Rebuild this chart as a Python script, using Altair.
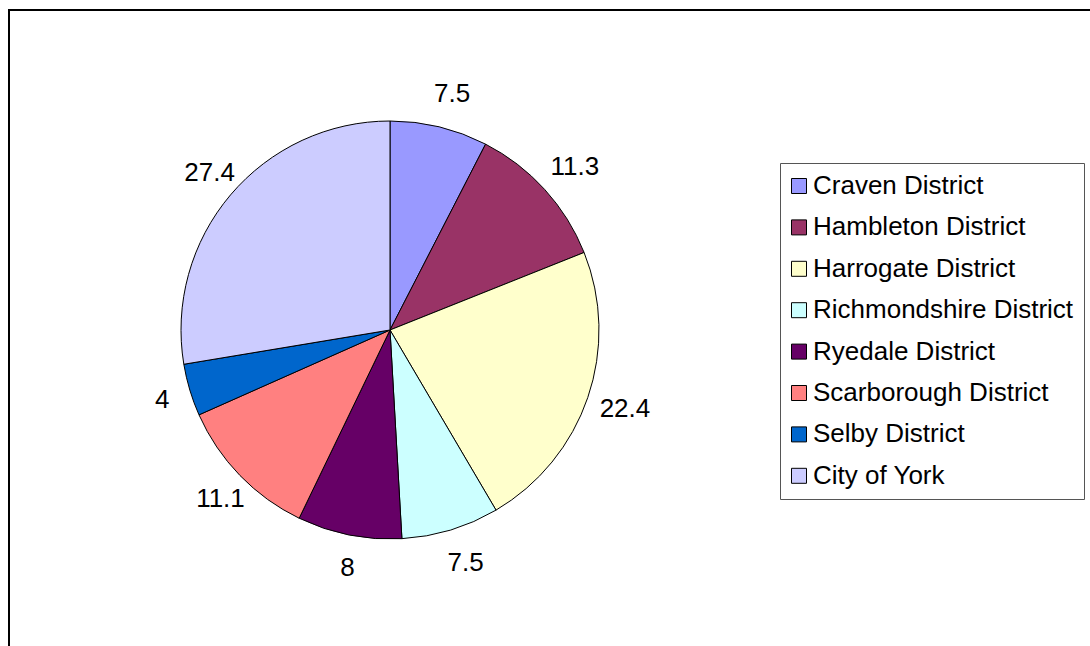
import altair as alt
import pandas as pd

districts = ["Craven District", "Hambleton District", "Harrogate District",
             "Richmondshire District", "Ryedale District", "Scarborough District",
             "Selby District", "City of York"]
values = [7.5, 11.3, 22.4, 7.5, 8, 11.1, 4, 27.4]
labels = ["7.5", "11.3", "22.4", "7.5", "8", "11.1", "4", "27.4"]
colors = ["#9999FF", "#993366", "#FFFFCC", "#CCFFFF", "#660066", "#FF8080",
          "#0066CC", "#CCCCFF"]

df = pd.DataFrame({"district": districts, "value": values, "label": labels,
                   "order": list(range(len(districts)))})

FONT = "Liberation Sans"
CX, CY = 390, 330

base = alt.Chart(df).encode(
    theta=alt.Theta("value:Q", stack=True),
    order=alt.Order("order:Q"),
)

pie = base.mark_arc(outerRadius=209, stroke="#000000", strokeWidth=1).encode(
    x=alt.value(CX),
    y=alt.value(CY),
    color=alt.Color(
        "district:N",
        scale=alt.Scale(domain=districts, range=colors),
        legend=alt.Legend(
            title=None,
            orient="none",
            legendX=780,
            legendY=163,
            padding=10,
            strokeColor="#555555",
            fillColor="white",
            symbolType="square",
            symbolSize=225,
            symbolOffset=-4,
            symbolStrokeColor="#000000",
            symbolStrokeWidth=1,
            labelFont=FONT,
            labelFontSize=26,
            labelColor="#000000",
            labelLimit=400,
            rowPadding=15.4,
            labelOffset=1,
        ),
    )
)

text = base.mark_text(radius=243, font=FONT, fontSize=26, color="#000000",
                      align="center", baseline="middle").encode(
    x=alt.value(CX + 5),
    y=alt.value(CY),
    text="label:N",
)

frame_top = alt.Chart(df).mark_rule(color="#000000", strokeWidth=2).encode(
    x=alt.value(8), x2=alt.value(1095), y=alt.value(10)
)
frame_left = alt.Chart(df).mark_rule(color="#000000", strokeWidth=2).encode(
    x=alt.value(9), y=alt.value(9), y2=alt.value(650)
)

chart = alt.layer(frame_top, frame_left, pie, text).properties(
    width=1090, height=646,
    padding=0,
    autosize=alt.AutoSizeParams(type="none"),
    background="white",
).configure_view(stroke=None)

chart.save("out.html", embed_options={"renderer": "svg", "actions": False})
